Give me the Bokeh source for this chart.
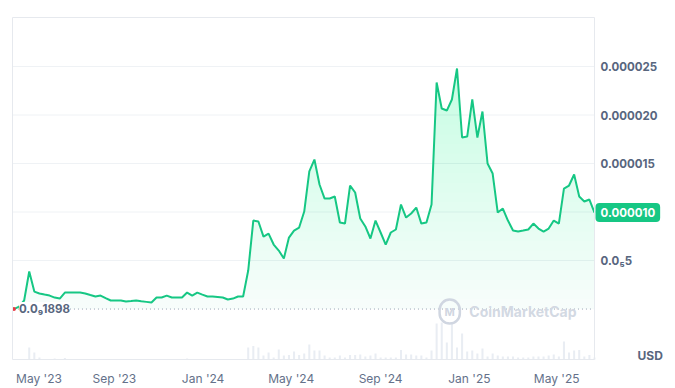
import numpy as np
import pandas as pd
from bokeh.plotting import figure
from bokeh.models import Range1d, FixedTicker, DatetimeTickFormatter, Label
from bokeh.core.properties import value
from bokeh.embed import file_html
from bokeh.resources import INLINE

# ---------------- data ----------------
start_date = "2023-04-16"          # first weekly observation
price_musd = [  # weekly price, in millionths of a USD
    0.0001898, 0.26, 0.88, 3.87, 1.80, 1.60, 1.49, 1.39, 1.18, 1.08,
    1.70, 1.70, 1.70, 1.70, 1.60, 1.44, 1.29, 1.39, 1.13, 0.88,
    0.88, 0.88, 0.77, 0.82, 0.88, 0.80, 0.74, 0.67, 1.19, 1.19,
    1.39, 1.19, 1.19, 1.19, 1.70, 1.39, 1.70, 1.49, 1.29, 1.29,
    1.24, 1.19, 0.98, 1.08, 1.29, 1.29, 3.97, 9.12, 9.02, 7.47,
    7.78, 6.65, 6.03, 5.21, 7.37, 8.09, 8.40, 10.05, 14.18, 15.41,
    12.84, 11.39, 11.39, 11.60, 8.92, 8.81, 12.73, 12.01, 9.33, 8.51,
    7.27, 9.12, 7.89, 6.65, 7.89, 8.20, 10.77, 9.43, 9.85, 10.46,
    8.81, 8.92, 10.77, 23.35, 20.67, 20.46, 21.60, 24.79, 17.68, 17.78,
    21.60, 17.68, 20.36, 15.00, 13.97, 9.95, 10.36, 9.12, 8.09, 7.99,
    8.09, 8.20, 8.81, 8.30, 7.99, 8.30, 9.12, 8.81, 12.42, 12.73,
    13.87, 11.60, 11.08, 11.29, 9.95,
]
volume_units = [  # weekly trading volume (relative units)
    0.3, 0.3, 0.5, 12, 7, 2, 0.5, 0.5, 1, 0.5,
    1.5, 0.3, 0.3, 0.3, 0.3, 0.3, 0.3, 0.3, 0.3, 0.3,
    0.3, 0.3, 0.3, 0.3, 0.3, 0.3, 0.3, 0.3, 0.3, 0.3,
    0.3, 0.3, 0.3, 0.3, 1, 0.3, 0.3, 0.3, 0.3, 0.3,
    0.3, 0.3, 0.3, 0.3, 0.3, 0.3, 12, 13.5, 12, 4,
    7, 2, 10, 4, 4.5, 8, 4.5, 6, 15, 9,
    9, 4, 2, 2, 4, 2, 4.5, 4.5, 5, 3,
    4, 6, 2, 2, 2, 2, 9.5, 5, 5, 4,
    4, 2, 9, 36, 37, 17, 36, 12, 26, 8,
    9, 6, 11, 3, 6, 4, 3, 3, 3, 2,
    2, 2, 3, 3, 3, 4, 5, 3, 18, 7,
    9, 9.5, 3, 4.5, 2,
]
price_ticks = [0.000005, 0.000010, 0.000015, 0.000020, 0.000025]
price_tick_labels = ["0.0\u20855", "0.000010", "0.000015", "0.000020", "0.000025"]
month_ticks = ["2023-05-01", "2023-09-01", "2024-01-01", "2024-05-01",
               "2024-09-01", "2025-01-01", "2025-05-01"]
month_labels = ["\u2007\u2007May '23", "Sep '23", "Jan '24", "May '24",
                "Sep '24", "Jan '25", "May '25"]
low_label = "0.0\u20891898"
current_label = "0.000010"
currency = "USD"
watermark = "CoinMarketCap"

# ---------------- derived ----------------
dates = pd.date_range(start_date, periods=len(price_musd), freq="7D")
price = np.array(price_musd) * 1e-6
volume = np.array(volume_units)
i_min = int(np.argmin(price))

GREEN = "#16c784"
LABEL = "#58667e"
BORDER = "#e6e9ee"
FONT = "Inter"

# plot box (drawn border) and the wider frame that also hosts the price scale
box_left, box_right = dates[0] - pd.Timedelta(days=2), dates[-1]
box_bottom, box_top = -5.2e-6, 30.05e-6
BOX_W, BOX_H = 582, 342                      # px of the bordered box
FRAME_W, FRAME_H = 664, 344                  # frame incl. 1px pad + price-scale column
ms_per_px = (box_right - box_left).total_seconds() * 1000 / BOX_W
v_per_px = (box_top - box_bottom) / BOX_H
x0 = box_left - pd.Timedelta(milliseconds=ms_per_px)
x1 = x0 + pd.Timedelta(milliseconds=ms_per_px * FRAME_W)
y0, y1 = box_bottom - v_per_px, box_top + v_per_px

p = figure(
    frame_width=FRAME_W, frame_height=FRAME_H,
    min_border_left=11, min_border_top=16, min_border_right=0, min_border_bottom=27,
    x_axis_type="datetime", y_axis_location=None,
    x_range=Range1d(x0, x1), y_range=Range1d(y0, y1),
    output_backend="svg", toolbar_location=None,
    background_fill_color="white", border_fill_color="white",
)
p.outline_line_color = None
p.xgrid.visible = False
p.ygrid.visible = False

# horizontal price grid, limited to the box
p.segment(x0=[box_left] * len(price_ticks), x1=[box_right] * len(price_ticks),
          y0=price_ticks, y1=price_ticks, line_color="#eff2f5", line_width=1)

# volume bars on their own scale (1 unit per px, zero at the box bottom)
p.extra_y_ranges = {"vol": Range1d(-1, FRAME_H - 1)}
p.vbar(x=dates, top=volume, width=pd.Timedelta(days=2.8), bottom=0,
       y_range_name="vol", fill_color="#e9edf3", line_color=None)

# all-time-low dotted line & label
p.segment(x0=[dates[i_min]], x1=[box_right], y0=[price[i_min]], y1=[price[i_min]],
          line_color="#9aa4b5", line_dash="1 3", line_width=1)
p.add_layout(Label(x=dates[i_min], y=float(price[i_min]), text=low_label, x_offset=5,
                   text_baseline="middle", text_font=FONT, text_font_size="11.5px",
                   text_font_style="bold", text_color=LABEL,
                   background_fill_color="white", level="glyph"))

# gradient-like fill: stacked translucent layers
levels = np.arange(0, 26e-6, 1e-6)
for k, lo in enumerate(levels):
    if (price <= lo).all():
        continue
    a = 0.035 if k == 0 else 0.0088
    p.varea(x=dates, y1=np.minimum(price, lo), y2=price,
            fill_color=GREEN, fill_alpha=a)

p.line(dates, price, line_color=GREEN, line_width=2)
p.scatter(x=[dates[i_min]], y=[float(price[i_min])], size=4,
          fill_color="#ea3943", line_color=None)

# border of the box
p.multi_line(xs=[[box_left, box_right], [box_left, box_right], [box_left, box_left],
                 [box_right, box_right]],
             ys=[[box_top, box_top], [box_bottom, box_bottom], [box_bottom, box_top],
                 [box_bottom, box_top]],
             line_color=BORDER, line_width=1)

# price scale (right of the box)
p.text(x=[box_right] * len(price_ticks), y=price_ticks, text=price_tick_labels,
       x_offset=6, text_baseline="middle", text_align="left",
       text_font=value(FONT), text_font_size="11.5px", text_font_style="bold",
       text_color=LABEL)

# time axis
month_ms = [int(pd.Timestamp(m).value // 10**6) for m in month_ticks]
p.xaxis.ticker = FixedTicker(ticks=month_ms)
p.xaxis.formatter = DatetimeTickFormatter(days="%b '%y", months="%b '%y", years="%b '%y")
p.xaxis.major_label_overrides = dict(zip(month_ms, month_labels))
ax = p.xaxis[0]
ax.axis_line_color = None
ax.major_tick_line_color = None
ax.minor_tick_line_color = None
ax.major_tick_out = 0
ax.major_tick_in = 0
ax.major_label_text_font = FONT
ax.major_label_text_font_size = "12px"
ax.major_label_text_color = "#64718a"
ax.major_label_standoff = 10

# current price badge
p.add_layout(Label(x=dates[-1], y=float(price[-1]), text=current_label, x_offset=1,
                   text_baseline="middle", text_align="left", text_font=FONT,
                   text_font_size="11.5px", text_font_style="bold", text_color="white",
                   background_fill_color=GREEN, border_radius=4, padding=5))
# currency
p.add_layout(Label(x=dates[-1], y=box_bottom, x_offset=43, y_offset=4, text=currency,
                   text_baseline="middle", text_font=FONT, text_font_size="12px",
                   text_font_style="bold", text_color=LABEL))

# watermark
p.add_layout(Label(x=pd.Timestamp("2024-12-05"), y=-0.26e-6, text="M",
                   text_align="center", text_baseline="middle", text_font=FONT,
                   text_font_size="11px", text_font_style="bold", text_color="#d0d6e1",
                   border_line_color="#d0d6e1", border_line_width=2.5,
                   border_radius=11, padding=5))
p.add_layout(Label(x=pd.Timestamp("2025-01-01"), y=-0.26e-6, text=watermark,
                   text_baseline="middle", text_font=FONT, text_font_size="14px",
                   text_font_style="bold", text_color="#d3d9e3"))

open("out.html", "w").write(file_html(p, INLINE))
